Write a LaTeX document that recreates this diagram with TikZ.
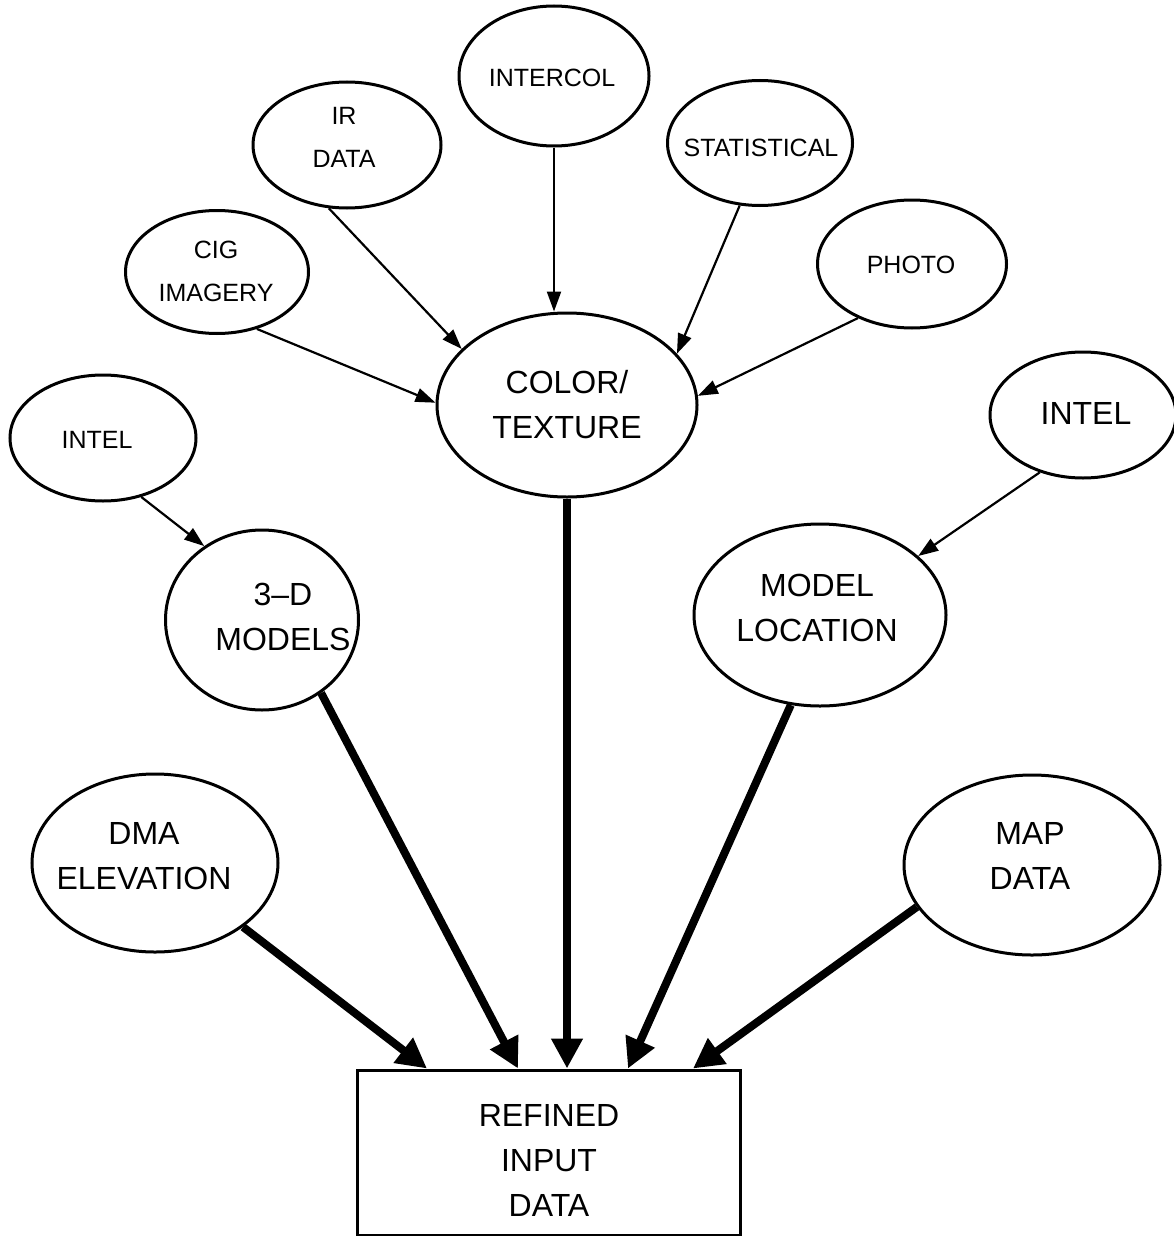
\documentclass[tikz,border=0pt]{standalone}
\usepackage{fontspec}
\setmainfont{Liberation Sans}
\usetikzlibrary{shapes.geometric,arrows.meta}
\begin{document}
\begin{tikzpicture}[x=1pt,y=-1pt,
  ell/.style={draw, ellipse, line width=3pt, inner sep=0pt},
  bigtxt/.style={align=center, font=\fontsize{32}{45}\selectfont, inner sep=0pt},
  smalltxt/.style={align=center, font=\fontsize{25}{43}\selectfont, inner sep=0pt},
  thinarr/.style={line width=2.2pt, -{Triangle[length=20pt,width=14pt]}},
  thickarr/.style={line width=8pt, -{Triangle[length=30pt,width=30pt]}},
  box/.style={draw, rectangle, line width=3pt, inner sep=0pt}]
\useasboundingbox (0,0) rectangle (1173,1236);

% ellipses
\node[ell, minimum width=190pt, minimum height=140pt] (intercol) at (554,76) {};
\node[ell, minimum width=188pt, minimum height=126pt] (ir) at (347,145) {};
\node[ell, minimum width=185pt, minimum height=125pt] (stat) at (760,143) {};
\node[ell, minimum width=183pt, minimum height=123pt] (cig) at (217,272) {};
\node[ell, minimum width=189pt, minimum height=128pt] (photo) at (912,264) {};
\node[ell, minimum width=260pt, minimum height=184pt] (color) at (567,405) {};
\node[ell, minimum width=186pt, minimum height=126pt] (intelL) at (103,438) {};
\node[ell, minimum width=186pt, minimum height=126pt] (intelR) at (1083,415) {};
\node[ell, minimum width=193pt, minimum height=180pt] (models) at (262,620) {};
\node[ell, minimum width=252pt, minimum height=182pt] (modloc) at (820,615) {};
\node[ell, minimum width=246pt, minimum height=178pt] (dma) at (155,863) {};
\node[ell, minimum width=256pt, minimum height=180pt] (map) at (1032,865) {};
\node[box, minimum width=383pt, minimum height=165pt] (refined) at (548.5,1152.5) {};

% texts
\node[smalltxt] (intercolT) at (552,78) {INTERCOL};
\node[smalltxt] (irT) at (344,137) {IR\\DATA};
\node[smalltxt] (statT) at (761,148) {STATISTICAL};
\node[smalltxt] (cigT) at (216,271) {CIG\\IMAGERY};
\node[smalltxt] (photoT) at (911,265) {PHOTO};
\node[bigtxt] (colorT) at (567,405) {COLOR/\\TEXTURE};
\node[smalltxt] (intelLT) at (97,440) {INTEL};
\node[bigtxt] (intelRT) at (1086,413) {INTEL};
\node[bigtxt] (modelsT) at (283,617) {3--D\\MODELS};
\node[bigtxt] (modlocT) at (817,608) {MODEL\\LOCATION};
\node[bigtxt] (dmaT) at (144,856) {DMA\\ELEVATION};
\node[bigtxt] (mapT) at (1030,856) {MAP\\DATA};
\node[bigtxt] (refinedT) at (549,1160) {REFINED\\INPUT\\DATA};

% thin arrows
\draw[thinarr] (cig.-55.4) -- (color.179);
\draw[thinarr] (ir.-106.8) -- (color.152.8);
\draw[thinarr] (intercol.south) -- (intercol.south |- color.north);
\draw[thinarr] (stat.-108.2) -- (color.25.7);
\draw[thinarr] (photo.-135) -- (color.4.4);
\draw[thinarr] (intelL.-57) -- (models.128.8);
\draw[thinarr] (intelR.-127) -- (modloc.31.8);

% thick arrows
\draw[thickarr] (dma.-36.7) -- ([xshift=-121.5pt]refined.north);
\draw[thickarr] (models.-51.8) -- ([xshift=-30.5pt]refined.north);
\draw[thickarr] (color.south) -- (color.south |- refined.north);
\draw[thickarr] (modloc.-108) -- ([xshift=79.5pt]refined.north);
\draw[thickarr] (map.-160.7) -- ([xshift=144.5pt]refined.north);
\end{tikzpicture}
\end{document}
